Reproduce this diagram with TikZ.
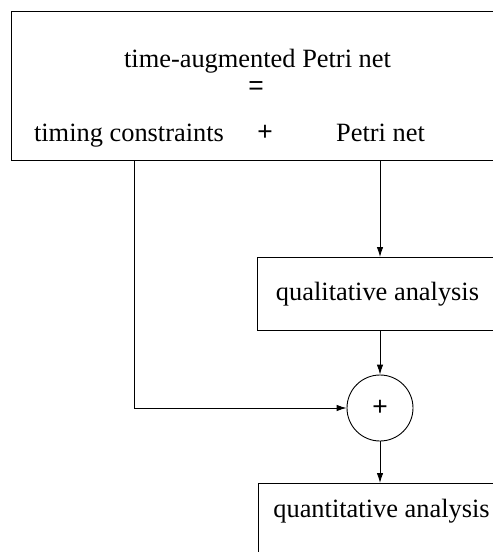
\documentclass[tikz,border=0pt]{standalone}
\usepackage{fontspec}
\setmainfont{Liberation Serif}
\newfontfamily\symfont{Liberation Sans}
\usetikzlibrary{arrows.meta,calc}
\begin{document}
\begin{tikzpicture}[x=1bp,y=1bp,
  every node/.style={font=\fontsize{26.5}{32}\selectfont, inner sep=0pt},
  box/.style={draw, line width=0.9bp, anchor=north west},
  txt/.style={anchor=base},
  sym/.style={font=\fontsize{26.5}{32}\selectfont\symfont},
  conn/.style={line width=0.9bp, -{Latex[length=10bp,width=6.5bp]}},
  plain/.style={line width=0.9bp}]
\useasboundingbox (0,0) rectangle (493,-552);
% top box
\node[box, minimum width=499bp, minimum height=149bp] (top) at (11,-11) {};
\node[txt] (title) at (257.5,-68) {time-augmented Petri net};
\node[sym] (eq) at (256,-88) {=};
\node[txt] (tc) at (129,-142) {timing constraints};
\node[sym] (plus) at (265,-132.5) {+};
\node[txt] (pn) at (380.5,-142) {Petri net};
\coordinate (tcx) at (134,-142);
\coordinate (pnx) at (380,-142);
% qualitative
\node[box, minimum width=260bp, minimum height=73bp] (qual) at (257,-257) {};
\node[txt] (qualt) at (377.5,-300) {qualitative analysis};
% circle
\node[draw, circle, line width=0.9bp, minimum size=66bp, sym] (sum) at (380,-408) {+};
% quantitative
\node[box, minimum width=260bp, minimum height=100bp] (quant) at (258,-483) {};
\node[txt] (quantt) at (381.5,-517) {quantitative analysis};
% connectors
\draw[conn] (pnx |- top.south) -- (pnx |- qual.north);
\draw[conn] (sum |- qual.south) -- (sum.north);
\draw[conn] (tcx |- top.south) |- (sum.west);
\draw[conn] (sum.south) -- (sum |- quant.north);
\end{tikzpicture}
\end{document}
